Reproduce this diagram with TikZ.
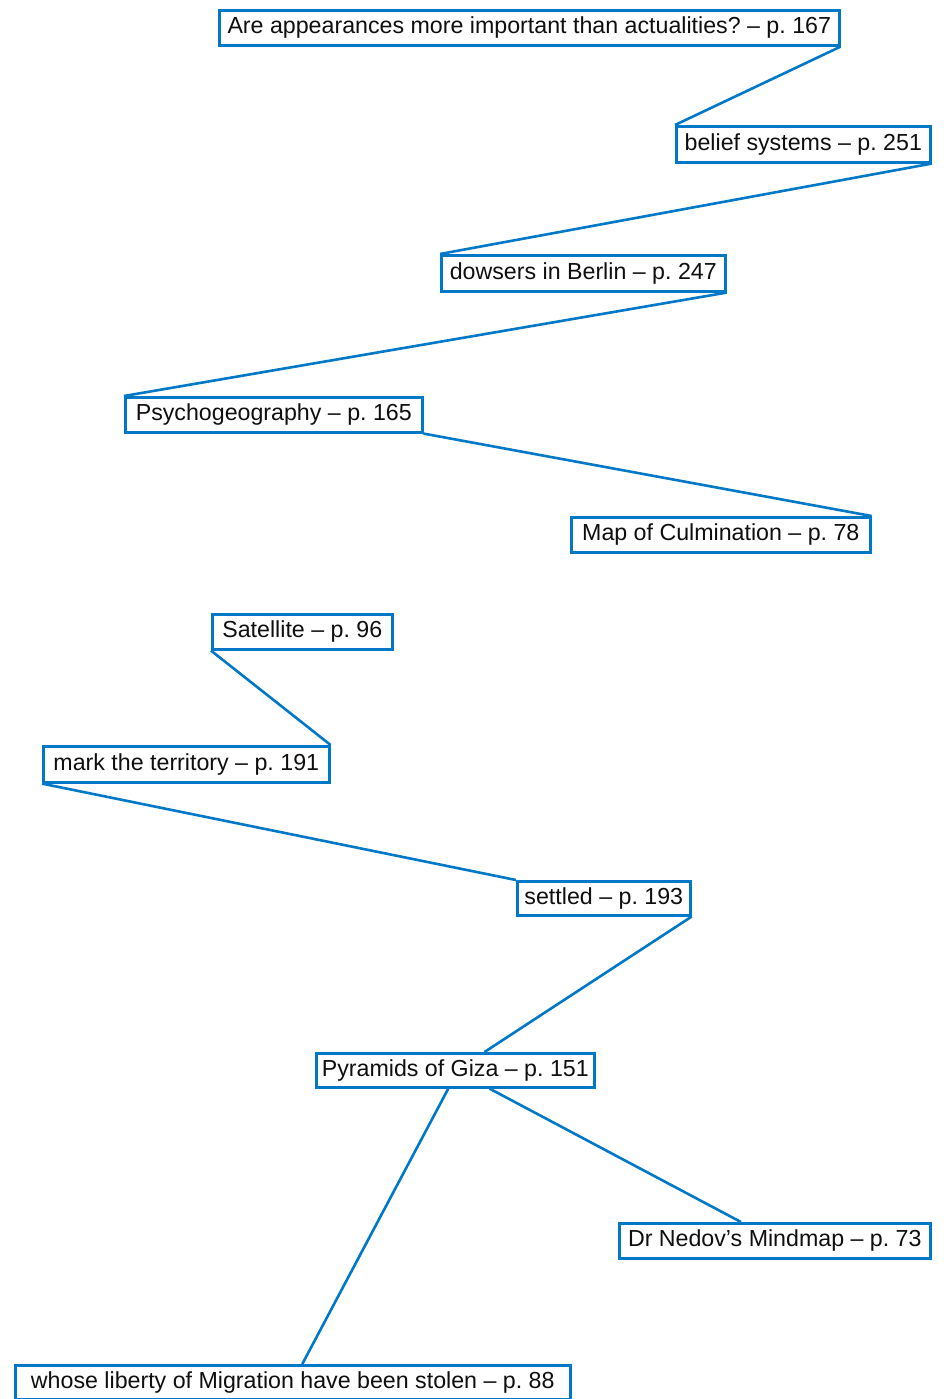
\documentclass[tikz,border=0pt]{standalone}
\usepackage{fontspec}
\setmainfont{Liberation Sans}
\usetikzlibrary{calc}
\definecolor{boxblue}{RGB}{0,120,200}
\definecolor{inkblack}{RGB}{15,15,15}
\tikzset{
  box/.style={draw=boxblue, line width=2.6pt, fill=white, inner sep=0pt, anchor=north west,
    text=inkblack, font=\fontsize{23.2}{27}\selectfont\frenchspacing, align=center},
  link/.style={draw=boxblue, line width=2.6pt}
}
\begin{document}
\begin{tikzpicture}[x=1pt,y=-1pt]
\useasboundingbox[fill=white] (0,0) rectangle (946,1399);
\node[box, minimum width=620pt, minimum height=35pt] (A) at (218,9) {Are appearances more important than actualities? -- p. 167};
\node[box, minimum width=254pt, minimum height=36pt] (B) at (675,125) {belief systems -- p. 251};
\node[box, minimum width=284pt, minimum height=36pt] (C) at (440,254) {dowsers in Berlin -- p. 247};
\node[box, minimum width=297pt, minimum height=35pt] (D) at (124,396) {Psychogeography -- p. 165};
\node[box, minimum width=299pt, minimum height=35pt] (E) at (570,516) {Map of Culmination -- p. 78};
\node[box, minimum width=180pt, minimum height=35pt] (F) at (211,613) {Satellite -- p. 96};
\node[box, minimum width=286pt, minimum height=36pt] (G) at (42,745) {mark the territory -- p. 191};
\node[box, minimum width=173pt, minimum height=34pt] (H) at (516,880) {settled -- p. 193};
\node[box, minimum width=278pt, minimum height=34pt] (I) at (315,1052) {Pyramids of Giza -- p. 151};
\node[box, minimum width=311pt, minimum height=35pt] (J) at (618,1222) {Dr Nedov’s Mindmap -- p. 73};
\node[box, minimum width=555pt, minimum height=34pt] (K) at (14,1364) {whose liberty of Migration have been stolen -- p. 88};
\draw[link] (A.south east) -- (B.north west);
\draw[link] (B.south east) -- (C.north west);
\draw[link] (C.south east) -- (D.north west);
\draw[link] (D.south east) -- (E.north east);
\draw[link] (F.south west) -- (G.north east);
\draw[link] (G.south west) -- (H.north west);
\draw[link] (H.south east) -- ($(I.north west)!0.604!(I.north east)$);
\draw[link] ($(I.south west)!0.475!(I.south east)$) -- ($(K.north west)!0.517!(K.north east)$);
\draw[link] ($(I.south west)!0.622!(I.south east)$) -- ($(J.north west)!0.392!(J.north east)$);
\end{tikzpicture}
\end{document}
